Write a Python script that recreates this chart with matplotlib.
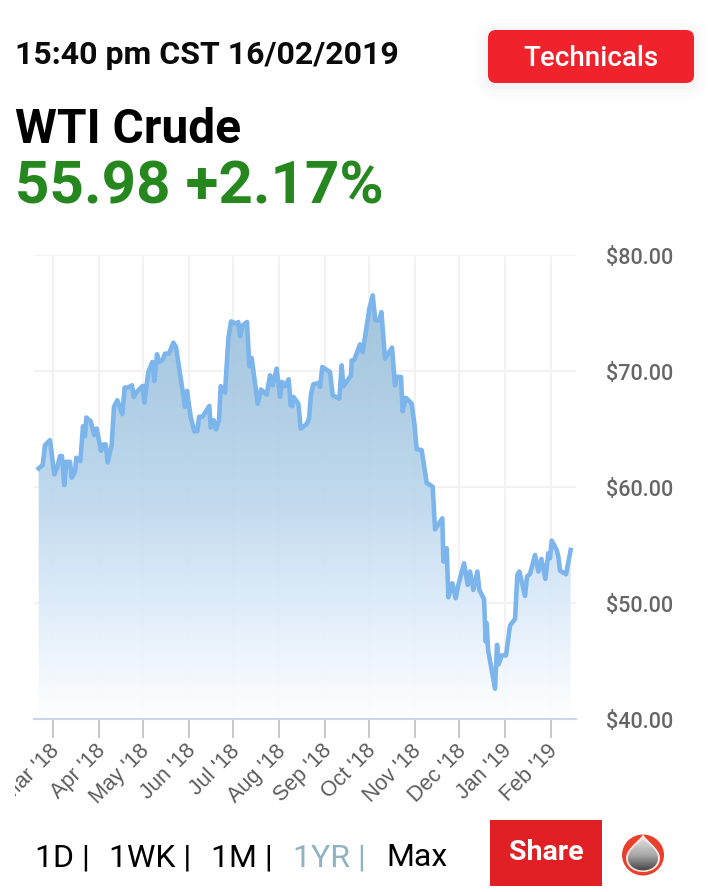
import numpy as np
import matplotlib
matplotlib.use("Agg")
import matplotlib.pyplot as plt
from matplotlib.colors import LinearSegmentedColormap
from matplotlib.patches import FancyBboxPatch, Rectangle, Ellipse, PathPatch
from matplotlib.path import Path
from matplotlib.transforms import Bbox, Affine2D

sessions = [-0.16,1.75,2.86,5.24,7.30,8.73,10.0,10.95,12.06,13.02,14.76,15.56,17.14,17.78,19.68,20.95,21.9,22.54,24.6,26.35,
27.46,29.52,30.63,31.75,32.7,34.6,35.71,37.3,39.68,40.79,42.38,44.29,45.08,46.51,49.37,50.16,52.06,53.97,54.92,56.19,
57.14,58.89,60.0,61.9,63.97,65.24,69.52,70.48,72.22,73.97,75.4,76.19,77.78,81.11,81.75,83.18,84.29,85.71,86.51,88.57,
90.16,91.43,93.81,94.92,95.71,96.98,99.05,100.16,101.27,104.13,105.71,108.41,110,111.27,113.17,114.76,115.71,117.14,118.89,119.84,
120.63,121.11,123.49,124.6,127.46,128.57,129.52,130.63,133.49,133.81,134.92,138.57,139.84,143.02,144.13,144.92,148.57,148.89,150,152.86,
154.13,157.3,158.89,160.16,162.06,163.02,164.76,168.1,169.52,170.32,172.38,173.17,174.76,177.46,178.73,179.84,182.22,184.6,187.46,188.57,
192.06,192.54,194.13,194.92,196.83,198.41,199.68,202.38,204.13,205.24,206.83,208.73,209.68,211.9,212.7,213.17,213.81,217.14,218.1,218.89,
220.32,222.38,224.29,226.67,227.78,228.73,231.43,232.38,233.81,236.19,237.78,239.21,241.11,242.54,243.33,244.13,246.51,247.3,248.1,250.95,253.17]
prices = [61.60,61.89,63.61,64.04,61.08,61.74,62.66,62.66,60.17,62.17,62.17,60.80,61.31,62.52,62.23,65.24,64.38,65.99,65.67,64.47,
65.04,63.12,63.67,63.67,62.12,63.61,66.91,67.48,66.28,68.57,68.57,68.77,67.77,68.2,68.71,67.28,69.92,70.78,69.12,71.44,
70.78,70.98,71.5,71.5,72.44,72.07,66.91,68.28,66.05,64.81,64.81,66.05,66.05,66.99,65.13,65.76,64.96,65.76,68.69,68.14,
72.79,74.28,74.08,74.22,72.99,73.94,74.22,70.41,71.12,67.19,68.4,67.97,69.63,68.77,70.21,67.77,69.06,68.71,69.29,67.05,
66.96,67.77,67.19,65.04,65.42,65.9,68.0,68.86,68.97,68.63,70.35,69.92,67.91,67.62,70.49,68.69,69.63,70.92,70.92,72.3,
71.64,75.37,76.52,74.37,74.37,75.08,71.07,72.01,68.77,69.49,69.49,66.53,67.68,67.19,65.47,63.26,63.18,60.37,60.02,56.35,
57.3,53.57,54.72,50.5,51.7,50.41,51.56,53.42,51.56,52.71,51.13,52.71,51.13,50.33,46.68,48.26,45.97,42.61,46.4,44.73,
45.48,45.48,48.06,48.63,52.42,52.71,50.61,52.28,52.51,54.14,52.71,53.8,52.08,54.29,53.86,55.38,54.57,54.0,52.79,52.48,54.57]

tick_pos = [6.7,28.5,49.5,71.5,92.4,114.2,136.2,157.1,178.9,200.1,221.9,243.7]
tick_labels = ["Mar '18","Apr '18","May '18","Jun '18","Jul '18","Aug '18","Sep '18","Oct '18","Nov '18","Dec '18","Jan '19","Feb '19"]
y_ticks = [40,50,60,70,80]
y_labels = ["$40.00","$50.00","$60.00","$70.00","$80.00"]
ranges = [("1D |",35),("1WK |",109),("1M |",211),("1YR |",293),("Max",386)]

W, H = 718, 892
plt.rcParams['font.family'] = ['Roboto', 'DejaVu Sans']
fig = plt.figure(figsize=(W/100, H/100), dpi=100, facecolor='white')

bg = fig.add_axes([0, 0, 1, 1], zorder=0)
bg.axis('off')

for g, a in [(14,.006),(10,.008),(6,.01),(3,.012)]:
    bg.add_patch(FancyBboxPatch((488-g, 30-g+3), 206+2*g, 53+2*g, boxstyle=f"round,pad=0,rounding_size={8+g}",
                                fc='black', ec='none', alpha=a))
bg.add_patch(FancyBboxPatch((488, 30), 206, 53, boxstyle="round,pad=0,rounding_size=8", fc='#f0232d', ec='none'))
bg.text(591, 59, "Technicals", color='white', fontsize=20, fontweight='medium', ha='center', va='center')
bg.text(15, 55, "15:40 pm CST 16/02/2019", fontsize=23, fontweight='bold', color='#0a0a0a', va='center')
bg.text(15, 130, "WTI Crude", fontsize=34.5, fontweight='bold', color='black', va='center')
bg.text(15, 188, "55.98 +2.17%", fontsize=43.3, fontweight='bold', color='#26871f', va='center')

for lab, px in ranges:
    bg.text(px, 858, lab, fontsize=23, color='#8fb3c0' if lab.startswith("1YR") else 'black', va='center')

bg.add_patch(Rectangle((490, 820), 112, 66, fc='#e02024', ec='none'))
bg.text(546, 853, "Share", color='white', fontsize=20.5, fontweight='bold', ha='center', va='center')

# oil-drop logo
cx, cy = 643, 855
bg.add_patch(Ellipse((cx, cy), 42, 41, fc='#e8402c', ec='none'))
def drop(r, tip):
    return Path([(cx, tip), (cx+2, cy-r*.9), (cx+r, cy-r*.4), (cx+r, cy+3),
                 (cx+r, cy+3+r*1.1), (cx-r, cy+3+r*1.1), (cx-r, cy+3),
                 (cx-r, cy-r*.4), (cx-2, cy-r*.9), (cx, tip)],
                [Path.MOVETO, Path.CURVE4, Path.CURVE4, Path.CURVE4, Path.CURVE4, Path.CURVE4,
                 Path.CURVE4, Path.CURVE4, Path.CURVE4, Path.CURVE4])
bg.add_patch(PathPatch(drop(17, cy-21), fc='#f6e6e2', ec='none'))
dp = PathPatch(drop(15, cy-16), fc='none', ec='none')
bg.add_patch(dp)
gm = LinearSegmentedColormap.from_list('g', ['#e0e0e0', '#a8a8a8', '#3c3c3c'])
dim = bg.imshow(np.linspace(0, 1, 64).reshape(-1, 1), extent=[cx-17, cx+17, cy+17, cy-17], aspect='auto', cmap=gm, zorder=3)
dim.set_clip_path(dp)
bg.set_xlim(0, W); bg.set_ylim(H, 0)

# chart
ax = fig.add_axes([34/W, 1-719/H, 542/W, 464/H], zorder=1)
ax.patch.set_alpha(0)
x = np.array(sessions); y = np.array(prices)
xlim = (-2.38, 255.7); ylim = (40, 80)
ax.grid(True, color='#f2f2f2', lw=1.5, zorder=1)
ax.set_axisbelow(True)

cmap = LinearSegmentedColormap.from_list('fade', [(0,'#ffffff'),(.25,'#dcebf9'),(.5,'#b9d5ec'),(.75,'#a5c8e0'),(1,'#98bdd6')])
grad = np.linspace(80, 40, 256).reshape(-1, 1)
im = ax.imshow(grad, extent=[xlim[0], xlim[1], 40, 80], aspect='auto', cmap=cmap, vmin=40, vmax=80, alpha=.93, zorder=2)
poly = ax.fill_between(x, y, 40, color='none', lw=0)
im.set_clip_path(poly.get_paths()[0], transform=ax.transData)
ax.plot(x, y, color='#7cb5ec', lw=3.3, solid_joinstyle='round', zorder=3)
ax.set_xlim(*xlim); ax.set_ylim(*ylim)

for s in ['top', 'left', 'right']:
    ax.spines[s].set_visible(False)
ax.spines['bottom'].set_color('#ccd6eb'); ax.spines['bottom'].set_linewidth(1.5)
ax.yaxis.tick_right()
ax.set_yticks(y_ticks, y_labels)
ax.tick_params(axis='y', length=0, pad=21.5, labelsize=15.5, labelcolor='#666666')
ydown = Affine2D().translate(0, -1)
for t in ax.get_yticklabels():
    t.set_fontweight('medium')
    t.set_transform(t.get_transform() + ydown)
ax.set_xticks(tick_pos, tick_labels)
ax.tick_params(axis='x', length=13.5, width=1.2, color='#bdbdbd', pad=2, labelsize=15.5, labelcolor='#5c5c5c')
clip = Bbox([[15, 0], [W, H]])
xleft = Affine2D().translate(-4, 0)
for t in ax.get_xticklabels():
    t.set_family(['Liberation Sans', 'DejaVu Sans'])
    t.set_rotation(45); t.set_ha('right'); t.set_va('top'); t.set_rotation_mode('anchor')
    t.set_transform(t.get_transform() + xleft)
    t.set_clip_on(True); t.set_clip_box(clip)

fig.savefig('out.png', dpi=100)
